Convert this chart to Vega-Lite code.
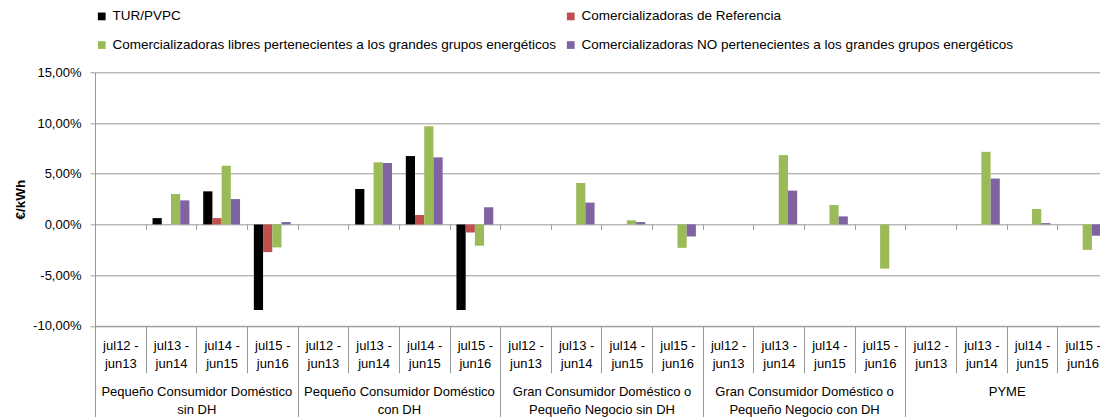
{
  "$schema": "https://vega.github.io/schema/vega-lite/v6.json",
  "autosize": {"type": "none"},
  "width": 1005,
  "height": 253.5,
  "padding": {"left": 95, "top": 72.3, "right": 0, "bottom": 91.2},
  "background": "white",
  "config": {
    "locale": {"number": {"decimal": ",", "thousands": ".", "grouping": [3], "currency": ["", " €"], "minus": "-", "percent": "%"}},
    "view": {"stroke": null},
    "font": "Liberation Sans",
    "axis": {"labelFont": "Liberation Sans", "labelColor": "black", "titleColor": "black", "domainColor": "#999", "tickColor": "#999", "gridColor": "#999"},
    "legend": {"labelFont": "Liberation Sans", "labelColor": "black"}
  },
  "data": {
    "values": [
      {"group": "Pequeño Consumidor Doméstico sin DH", "period": "jul13 - jun14", "series": "TUR/PVPC", "value": 0.0062},
      {"group": "Pequeño Consumidor Doméstico sin DH", "period": "jul13 - jun14", "series": "Comercializadoras libres pertenecientes a los grandes grupos energéticos", "value": 0.03},
      {"group": "Pequeño Consumidor Doméstico sin DH", "period": "jul13 - jun14", "series": "Comercializadoras NO pertenecientes a los grandes grupos energéticos", "value": 0.0237},
      {"group": "Pequeño Consumidor Doméstico sin DH", "period": "jul14 - jun15", "series": "TUR/PVPC", "value": 0.0326},
      {"group": "Pequeño Consumidor Doméstico sin DH", "period": "jul14 - jun15", "series": "Comercializadoras de Referencia", "value": 0.0062},
      {"group": "Pequeño Consumidor Doméstico sin DH", "period": "jul14 - jun15", "series": "Comercializadoras libres pertenecientes a los grandes grupos energéticos", "value": 0.0579},
      {"group": "Pequeño Consumidor Doméstico sin DH", "period": "jul14 - jun15", "series": "Comercializadoras NO pertenecientes a los grandes grupos energéticos", "value": 0.025},
      {"group": "Pequeño Consumidor Doméstico sin DH", "period": "jul15 - jun16", "series": "TUR/PVPC", "value": -0.0845},
      {"group": "Pequeño Consumidor Doméstico sin DH", "period": "jul15 - jun16", "series": "Comercializadoras de Referencia", "value": -0.0273},
      {"group": "Pequeño Consumidor Doméstico sin DH", "period": "jul15 - jun16", "series": "Comercializadoras libres pertenecientes a los grandes grupos energéticos", "value": -0.0227},
      {"group": "Pequeño Consumidor Doméstico sin DH", "period": "jul15 - jun16", "series": "Comercializadoras NO pertenecientes a los grandes grupos energéticos", "value": 0.0023},
      {"group": "Pequeño Consumidor Doméstico con DH", "period": "jul13 - jun14", "series": "TUR/PVPC", "value": 0.0349},
      {"group": "Pequeño Consumidor Doméstico con DH", "period": "jul13 - jun14", "series": "Comercializadoras libres pertenecientes a los grandes grupos energéticos", "value": 0.0612},
      {"group": "Pequeño Consumidor Doméstico con DH", "period": "jul13 - jun14", "series": "Comercializadoras NO pertenecientes a los grandes grupos energéticos", "value": 0.0605},
      {"group": "Pequeño Consumidor Doméstico con DH", "period": "jul14 - jun15", "series": "TUR/PVPC", "value": 0.0674},
      {"group": "Pequeño Consumidor Doméstico con DH", "period": "jul14 - jun15", "series": "Comercializadoras de Referencia", "value": 0.0092},
      {"group": "Pequeño Consumidor Doméstico con DH", "period": "jul14 - jun15", "series": "Comercializadoras libres pertenecientes a los grandes grupos energéticos", "value": 0.0967},
      {"group": "Pequeño Consumidor Doméstico con DH", "period": "jul14 - jun15", "series": "Comercializadoras NO pertenecientes a los grandes grupos energéticos", "value": 0.0661},
      {"group": "Pequeño Consumidor Doméstico con DH", "period": "jul15 - jun16", "series": "TUR/PVPC", "value": -0.0845},
      {"group": "Pequeño Consumidor Doméstico con DH", "period": "jul15 - jun16", "series": "Comercializadoras de Referencia", "value": -0.0079},
      {"group": "Pequeño Consumidor Doméstico con DH", "period": "jul15 - jun16", "series": "Comercializadoras libres pertenecientes a los grandes grupos energéticos", "value": -0.021},
      {"group": "Pequeño Consumidor Doméstico con DH", "period": "jul15 - jun16", "series": "Comercializadoras NO pertenecientes a los grandes grupos energéticos", "value": 0.0168},
      {"group": "Gran Consumidor Doméstico o Pequeño Negocio sin DH", "period": "jul13 - jun14", "series": "Comercializadoras libres pertenecientes a los grandes grupos energéticos", "value": 0.0409},
      {"group": "Gran Consumidor Doméstico o Pequeño Negocio sin DH", "period": "jul13 - jun14", "series": "Comercializadoras NO pertenecientes a los grandes grupos energéticos", "value": 0.0215},
      {"group": "Gran Consumidor Doméstico o Pequeño Negocio sin DH", "period": "jul14 - jun15", "series": "Comercializadoras libres pertenecientes a los grandes grupos energéticos", "value": 0.004},
      {"group": "Gran Consumidor Doméstico o Pequeño Negocio sin DH", "period": "jul14 - jun15", "series": "Comercializadoras NO pertenecientes a los grandes grupos energéticos", "value": 0.0023},
      {"group": "Gran Consumidor Doméstico o Pequeño Negocio sin DH", "period": "jul15 - jun16", "series": "Comercializadoras libres pertenecientes a los grandes grupos energéticos", "value": -0.0231},
      {"group": "Gran Consumidor Doméstico o Pequeño Negocio sin DH", "period": "jul15 - jun16", "series": "Comercializadoras NO pertenecientes a los grandes grupos energéticos", "value": -0.0119},
      {"group": "Gran Consumidor Doméstico o Pequeño Negocio con DH", "period": "jul13 - jun14", "series": "Comercializadoras libres pertenecientes a los grandes grupos energéticos", "value": 0.0683},
      {"group": "Gran Consumidor Doméstico o Pequeño Negocio con DH", "period": "jul13 - jun14", "series": "Comercializadoras NO pertenecientes a los grandes grupos energéticos", "value": 0.0333},
      {"group": "Gran Consumidor Doméstico o Pequeño Negocio con DH", "period": "jul14 - jun15", "series": "Comercializadoras libres pertenecientes a los grandes grupos energéticos", "value": 0.0191},
      {"group": "Gran Consumidor Doméstico o Pequeño Negocio con DH", "period": "jul14 - jun15", "series": "Comercializadoras NO pertenecientes a los grandes grupos energéticos", "value": 0.0079},
      {"group": "Gran Consumidor Doméstico o Pequeño Negocio con DH", "period": "jul15 - jun16", "series": "Comercializadoras libres pertenecientes a los grandes grupos energéticos", "value": -0.0436},
      {"group": "PYME", "period": "jul13 - jun14", "series": "Comercializadoras libres pertenecientes a los grandes grupos energéticos", "value": 0.0716},
      {"group": "PYME", "period": "jul13 - jun14", "series": "Comercializadoras NO pertenecientes a los grandes grupos energéticos", "value": 0.0452},
      {"group": "PYME", "period": "jul14 - jun15", "series": "Comercializadoras libres pertenecientes a los grandes grupos energéticos", "value": 0.0152},
      {"group": "PYME", "period": "jul14 - jun15", "series": "Comercializadoras NO pertenecientes a los grandes grupos energéticos", "value": 0.0013},
      {"group": "PYME", "period": "jul15 - jun16", "series": "Comercializadoras libres pertenecientes a los grandes grupos energéticos", "value": -0.0251},
      {"group": "PYME", "period": "jul15 - jun16", "series": "Comercializadoras NO pertenecientes a los grandes grupos energéticos", "value": -0.0112}
    ]
  },
  "transform": [{"calculate": "datum.group + '|' + datum.period", "as": "slot"}],
  "layer": [
    {
      "mark": {"type": "bar"},
      "encoding": {
        "x": {
          "field": "slot", "type": "nominal",
          "scale": {
            "type": "band", "paddingInner": 0, "paddingOuter": 0, "range": [0, 1013],
            "domain": [
              "Pequeño Consumidor Doméstico sin DH|jul12 - jun13", "Pequeño Consumidor Doméstico sin DH|jul13 - jun14", "Pequeño Consumidor Doméstico sin DH|jul14 - jun15", "Pequeño Consumidor Doméstico sin DH|jul15 - jun16",
              "Pequeño Consumidor Doméstico con DH|jul12 - jun13", "Pequeño Consumidor Doméstico con DH|jul13 - jun14", "Pequeño Consumidor Doméstico con DH|jul14 - jun15", "Pequeño Consumidor Doméstico con DH|jul15 - jun16",
              "Gran Consumidor Doméstico o Pequeño Negocio sin DH|jul12 - jun13", "Gran Consumidor Doméstico o Pequeño Negocio sin DH|jul13 - jun14", "Gran Consumidor Doméstico o Pequeño Negocio sin DH|jul14 - jun15", "Gran Consumidor Doméstico o Pequeño Negocio sin DH|jul15 - jun16",
              "Gran Consumidor Doméstico o Pequeño Negocio con DH|jul12 - jun13", "Gran Consumidor Doméstico o Pequeño Negocio con DH|jul13 - jun14", "Gran Consumidor Doméstico o Pequeño Negocio con DH|jul14 - jun15", "Gran Consumidor Doméstico o Pequeño Negocio con DH|jul15 - jun16",
              "PYME|jul12 - jun13", "PYME|jul13 - jun14", "PYME|jul14 - jun15", "PYME|jul15 - jun16"
            ]
          },
          "axis": {
            "orient": "bottom", "title": null, "labelAngle": 0, "tickBand": "extent", "tickSize": 47,
            "labelExpr": "indexof(datum.label + '', '|') < 0 ? '' : [slice(split(datum.label,'|')[1],0,7), slice(split(datum.label,'|')[1],8)]",
            "labelFontSize": 13, "labelLineHeight": 17.6, "labelPadding": -33, "labelBaseline": "top", "labelAlign": "center", "labelLimit": 0, "labelOverlap": false
          }
        },
        "xOffset": {
          "field": "series", "type": "nominal",
          "scale": {"paddingInner": 0, "paddingOuter": 0.75, "domain": ["TUR/PVPC", "Comercializadoras de Referencia", "Comercializadoras libres pertenecientes a los grandes grupos energéticos", "Comercializadoras NO pertenecientes a los grandes grupos energéticos"]}
        },
        "y": {
          "field": "value", "type": "quantitative",
          "scale": {"domain": [-0.1, 0.15], "nice": false, "zero": false},
          "axis": {
            "title": "€/kWh", "titleFontWeight": "bold", "titleFontSize": 13.5, "titlePadding": 5,
            "values": [-0.1, -0.05, 0, 0.05, 0.1, 0.15], "format": ".2%", "labelFontSize": 13, "labelPadding": 9, "tickSize": 5,
            "grid": true
          }
        },
        "color": {
          "field": "series", "type": "nominal",
          "scale": {
            "domain": ["TUR/PVPC", "Comercializadoras de Referencia", "Comercializadoras libres pertenecientes a los grandes grupos energéticos", "Comercializadoras NO pertenecientes a los grandes grupos energéticos"],
            "range": ["#000000", "#C0504D", "#9BBB59", "#8064A2"]
          },
          "legend": {
            "orient": "top", "title": null, "columns": 2, "direction": "horizontal", "symbolType": "square", "symbolSize": 60,
            "symbolStrokeWidth": 0, "labelFontSize": 13.5, "rowPadding": 14, "columnPadding": 8, "offset": 20, "labelOffset": 4, "labelLimit": 0
          }
        }
      }
    },
    {
      "mark": {"type": "point", "opacity": 0},
      "encoding": {
        "x": {
          "field": "group", "type": "nominal",
          "scale": {
            "type": "band", "paddingInner": 0, "paddingOuter": 0, "range": [0, 1013],
            "domain": ["Pequeño Consumidor Doméstico sin DH", "Pequeño Consumidor Doméstico con DH", "Gran Consumidor Doméstico o Pequeño Negocio sin DH", "Gran Consumidor Doméstico o Pequeño Negocio con DH", "PYME"]
          },
          "axis": {
            "orient": "bottom", "title": null, "labelAngle": 0, "tickBand": "extent", "tickSize": 92, "domain": false,
            "labelExpr": "indexof(datum.label + '', ' o ') > 0 ? [slice(datum.label,0,indexof(datum.label,' o ')+2), slice(datum.label,indexof(datum.label,' o ')+3)] : (indexof(datum.label + '', 'Doméstico') > 0 ? [slice(datum.label,0,indexof(datum.label,'Doméstico')+9), slice(datum.label,indexof(datum.label,'Doméstico')+10)] : (indexof(datum.label + '', 'PYME') >= 0 ? datum.label : ''))",
            "labelFontSize": 13, "labelLineHeight": 18, "labelPadding": -32.3, "labelBaseline": "top", "labelAlign": "center", "labelLimit": 0, "labelOverlap": false
          }
        }
      }
    },
    {
      "mark": {"type": "point", "opacity": 0},
      "encoding": {
        "x": {
          "field": "slot", "type": "nominal",
          "scale": {
            "type": "band", "paddingInner": 0, "paddingOuter": 0, "range": [0, 1013],
            "domain": [
              "Pequeño Consumidor Doméstico sin DH|jul12 - jun13", "Pequeño Consumidor Doméstico sin DH|jul13 - jun14", "Pequeño Consumidor Doméstico sin DH|jul14 - jun15", "Pequeño Consumidor Doméstico sin DH|jul15 - jun16",
              "Pequeño Consumidor Doméstico con DH|jul12 - jun13", "Pequeño Consumidor Doméstico con DH|jul13 - jun14", "Pequeño Consumidor Doméstico con DH|jul14 - jun15", "Pequeño Consumidor Doméstico con DH|jul15 - jun16",
              "Gran Consumidor Doméstico o Pequeño Negocio sin DH|jul12 - jun13", "Gran Consumidor Doméstico o Pequeño Negocio sin DH|jul13 - jun14", "Gran Consumidor Doméstico o Pequeño Negocio sin DH|jul14 - jun15", "Gran Consumidor Doméstico o Pequeño Negocio sin DH|jul15 - jun16",
              "Gran Consumidor Doméstico o Pequeño Negocio con DH|jul12 - jun13", "Gran Consumidor Doméstico o Pequeño Negocio con DH|jul13 - jun14", "Gran Consumidor Doméstico o Pequeño Negocio con DH|jul14 - jun15", "Gran Consumidor Doméstico o Pequeño Negocio con DH|jul15 - jun16",
              "PYME|jul12 - jun13", "PYME|jul13 - jun14", "PYME|jul14 - jun15", "PYME|jul15 - jun16"
            ]
          },
          "axis": {"orient": "bottom", "title": null, "labels": false, "domain": false, "tickBand": "extent", "tickSize": 5, "offset": -101.4}
        }
      }
    }
  ],
  "resolve": {"scale": {"x": "independent"}, "axis": {"x": "independent"}}
}
